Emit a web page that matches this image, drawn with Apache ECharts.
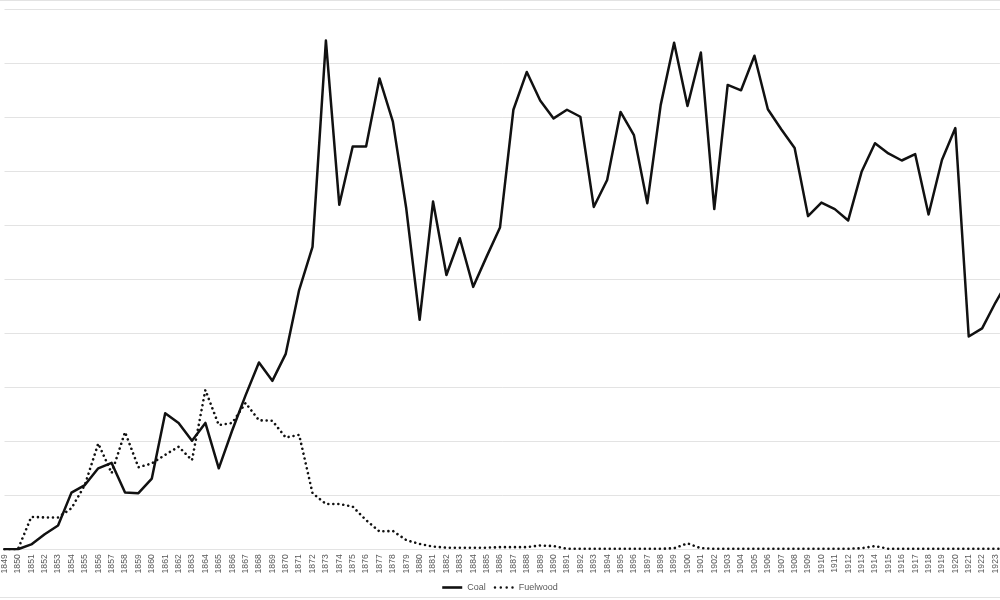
<!DOCTYPE html>
<html>
<head>
<meta charset="utf-8">
<script src="https://cdn.jsdelivr.net/npm/echarts@6/dist/echarts.min.js"></script>
<style>html,body{margin:0;padding:0;background:#fff;}#c{width:1000px;height:600px;}</style>
</head>
<body>
<div id="c"></div>
<script>
const years = [];
for (let y = 1849; y <= 1924; y++) years.push(y);

const coal = [
  0, 0, 0.09, 0.28, 0.44, 1.05, 1.19, 1.5, 1.6, 1.05,
  1.04, 1.31, 2.52, 2.34, 2.01, 2.34, 1.5, 2.2, 2.85, 3.46,
  3.12, 3.62, 4.8, 5.6, 9.42, 6.38, 7.46, 7.46, 8.72, 7.92,
  6.31, 4.25, 6.44, 5.08, 5.76, 4.86, 5.42, 5.96, 8.14, 8.84,
  8.31, 7.98, 8.14, 8.01, 6.34, 6.84, 8.1, 7.67, 6.41, 8.23,
  9.38, 8.21, 9.2, 6.3, 8.6, 8.5, 9.14, 8.15, 7.78, 7.43,
  6.17, 6.42, 6.3, 6.09, 6.99, 7.52, 7.33, 7.2, 7.32, 6.2,
  7.21, 7.8, 3.94, 4.09, 4.57, 5.0
];

const fuelwood = [
  0, 0, 0.6, 0.59, 0.59, 0.76, 1.19, 1.96, 1.41, 2.17,
  1.52, 1.59, 1.75, 1.9, 1.65, 2.95, 2.3, 2.34, 2.71, 2.39,
  2.38, 2.07, 2.12, 1.04, 0.84, 0.84, 0.79, 0.54, 0.33, 0.34,
  0.17, 0.1, 0.05, 0.03, 0.03, 0.03, 0.03, 0.04, 0.04, 0.04,
  0.07, 0.06, 0.01, 0.01, 0.01, 0.01, 0.01, 0.01, 0.01, 0.01,
  0.02, 0.11, 0.02, 0.01, 0.01, 0.01, 0.01, 0.01, 0.01, 0.01,
  0.01, 0.01, 0.01, 0.01, 0.02, 0.06, 0.01, 0.01, 0.01, 0.01,
  0.01, 0.01, 0.01, 0.01, 0.01, 0.01
];

const coalData = years.map((y, i) => [y, coal[i]]);
const fuelData = years.map((y, i) => [y, fuelwood[i]]);

const coalIcon = 'path://M0,0L20,0L20,2.6L0,2.6Z';
const dotIcon = 'path://' + [1.3, 7.4, 13.6, 19.7].map(c =>
  'M' + (c - 1.3) + ',1.3a1.3,1.3 0 1,0 2.6,0a1.3,1.3 0 1,0 -2.6,0Z').join('');

const chart = echarts.init(document.getElementById('c'), null, {renderer: 'canvas'});
chart.setOption({
  animation: false,
  backgroundColor: '#fff',
  grid: { left: 2.5, right: 0, top: 9.3, bottom: 50.7, containLabel: false },
  legend: {
    bottom: 3,
    left: 'center',
    itemWidth: 20,
    itemHeight: 2.6,
    itemGap: 8,
    textStyle: { color: '#595959', fontSize: 9, fontFamily: 'Liberation Sans, Arial, sans-serif' },
    data: [
      { name: 'Coal', icon: coalIcon },
      { name: 'Fuelwood', icon: dotIcon }
    ]
  },
  xAxis: {
    type: 'value',
    min: 1849,
    max: 1923.33,
    interval: 1,
    axisLine: { show: false },
    axisTick: { show: false },
    axisLabel: {
      rotate: 90, margin: 5, fontSize: 8.6, showMaxLabel: false,
      color: '#595959', fontFamily: 'Liberation Sans, Arial, sans-serif',
      formatter: v => (Number.isInteger(v) ? String(v) : '')
    },
    splitLine: { show: false }
  },
  yAxis: {
    type: 'value',
    min: 0, max: 10, interval: 1,
    axisLine: { show: false },
    axisTick: { show: false },
    axisLabel: { show: false },
    splitLine: { show: true, lineStyle: { color: '#e3e3e3', width: 1 } }
  },
  series: [
    {
      name: 'Coal', type: 'line', data: coalData,
      showSymbol: false, symbol: 'none', clip: true,
      lineStyle: { color: '#111', width: 2.5, join: 'round', cap: 'round' },
      itemStyle: { color: '#111' }
    },
    {
      name: 'Fuelwood', type: 'line', data: fuelData,
      showSymbol: false, symbol: 'none', clip: true,
      lineStyle: { color: '#111', width: 2.6, type: [0.01, 5], cap: 'round', join: 'round' },
      itemStyle: { color: '#111' }
    }
  ],
  graphic: [
    { type: 'line', shape: { x1: 0, y1: 0.5, x2: 1000, y2: 0.5 }, style: { stroke: '#e3e3e3', lineWidth: 1 } },
    { type: 'line', shape: { x1: 0, y1: 597.5, x2: 1000, y2: 597.5 }, style: { stroke: '#e3e3e3', lineWidth: 1 } }
  ]
});
</script>
</body>
</html>
